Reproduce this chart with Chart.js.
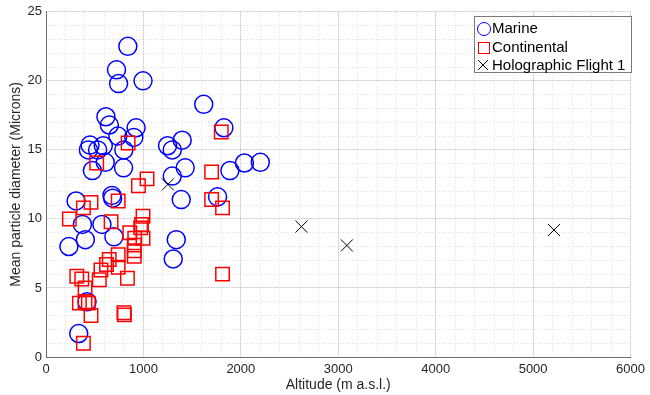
<!DOCTYPE html>
<html>
<head>
<meta charset="utf-8">
<script src="https://cdn.jsdelivr.net/npm/chart.js@4.4.1/dist/chart.umd.min.js"></script>
<style>
  body { margin: 0; background: #fff; }
  #wrap { position: relative; width: 650px; height: 395px; }
  #legend {
    position: absolute; left: 474px; top: 16px; width: 156px; height: 53px;
    border: 1px solid #7a7a7a; background: #fff;
    font-family: Helvetica, 'Liberation Sans', Arial, sans-serif; font-size: 15px; color: #000;
    padding-top: 2px; box-sizing: content-box;
  }
  #legend .row { height: 18.5px; line-height: 18.5px; position: relative; padding-left: 17px; white-space: nowrap; }
  #legend .mk { position: absolute; left: 2px; top: 3px; }
  .circ { width: 12px; height: 12px; border: 1.5px solid #0000ff; border-radius: 50%; }
  .sq { width: 10px; height: 10px; border: 1.5px solid #ff0000; left: 3px !important; top: 4px !important; }
</style>
</head>
<body>
<div id="wrap">
  <canvas id="chart" width="650" height="395"></canvas>
  <div id="legend">
    <div class="row"><span class="mk circ"></span>Marine</div>
    <div class="row"><span class="mk sq"></span>Continental</div>
    <div class="row"><svg class="mk" width="14" height="14" style="left:1px;top:2px"><path d="M2 2 L12 12 M12 2 L2 12" stroke="#000" stroke-width="1"/></svg>Holographic Flight 1</div>
  </div>
</div>
<script>
const marineAlt = [840, 724, 745, 996, 1619, 1826, 615, 650, 925, 738, 901, 452, 435, 588, 530, 799, 1248, 1296, 1398, 608,
    476, 796, 1429, 2037, 2200, 1888, 1296, 309, 677, 684, 1388, 1761, 374, 574, 697, 404, 235, 1337, 1306, 421, 336];
const marineDia = [22.5, 20.8, 19.8, 20.0, 18.3, 16.6, 17.4, 16.8, 16.6, 16.0, 15.9, 15.35, 15.0, 15.3, 15.0, 15.0, 15.3, 15.0, 15.7, 14.1,
    13.5, 13.7, 13.7, 14.05, 14.1, 13.5, 13.1, 11.3, 11.7, 11.5, 11.4, 11.6, 9.6, 9.6, 8.7, 8.5, 8.0, 8.5, 7.1, 4.0, 1.7];

const contAlt = [843, 520, 1799, 1700, 1037, 949, 1700, 1812, 462, 384, 741, 240, 668, 996, 980, 972, 860, 911, 996, 906,
    906, 906, 741, 649, 621, 741, 564, 547, 836, 316, 367, 401, 343, 400, 435, 462, 800, 805, 1812, 384];
const contDia = [15.5, 14.05, 16.3, 13.4, 12.9, 12.4, 11.4, 10.8, 11.2, 10.8, 11.3, 10.0, 9.8, 10.2, 9.6, 9.35, 9.0, 8.6, 8.6, 8.1,
    7.7, 7.3, 7.4, 7.06, 6.7, 6.5, 6.3, 5.6, 5.7, 5.85, 5.65, 5.0, 3.9, 4.0, 3.9, 3.0, 3.2, 3.05, 6.0, 1.0];

const holoAlt = [1251, 2622, 3088, 5214];
const holoDia = [12.5, 9.44, 8.08, 9.2];

const xTicks = [0, 1000, 2000, 3000, 4000, 5000, 6000];
const yTicks = [0, 5, 10, 15, 20, 25];

const toPts = (xs, ys) => xs.map((x, i) => ({ x: x, y: ys[i] }));

const fontFam = "Helvetica, 'Liberation Sans', Arial, sans-serif";
const axisCol = '#6e6e6e';
const textCol = '#262626';

const ctx = document.getElementById('chart').getContext('2d');

new Chart(ctx, {
    type: 'scatter',
    data: {
        datasets: [
            {
                label: 'Marine',
                data: toPts(marineAlt, marineDia),
                pointStyle: 'circle',
                radius: 9,
                borderColor: '#0000ff',
                backgroundColor: 'rgba(0,0,0,0)',
                borderWidth: 1.5,
                order: 2
            },
            {
                label: 'Continental',
                data: toPts(contAlt, contDia),
                pointStyle: 'rect',
                radius: 9.5,
                borderColor: '#ff0000',
                backgroundColor: 'rgba(0,0,0,0)',
                borderWidth: 1.5,
                order: 1
            },
            {
                label: 'Holographic Flight 1',
                data: toPts(holoAlt, holoDia),
                pointStyle: 'crossRot',
                radius: 8.5,
                borderColor: '#000000',
                borderWidth: 1,
                order: 0
            }
        ]
    },
    options: {
        responsive: false,
        animation: false,
        events: [],
        layout: { padding: { top: 2, right: 0, left: 0, bottom: 0 } },
        plugins: { legend: { display: false }, tooltip: { enabled: false } },
        scales: {
            xm: {
                type: 'linear', position: 'bottom', min: 0, max: 6000,
                ticks: { display: false, stepSize: 200 },
                grid: { color: 'rgba(38,38,38,0.15)', drawTicks: false, lineWidth: 1 },
                border: { display: false, dash: [1, 2] }
            },
            ym: {
                type: 'linear', position: 'left', min: 0, max: 25,
                ticks: { display: false, stepSize: 1 },
                grid: { color: 'rgba(38,38,38,0.15)', drawTicks: false, lineWidth: 1 },
                border: { display: false, dash: [1, 2] }
            },
            x: {
                type: 'linear', position: 'bottom', min: 0, max: 6000,
                afterBuildTicks: (s) => { s.ticks = xTicks.map(v => ({ value: v })); },
                afterFit: (s) => { s.height = 38; },
                ticks: { color: textCol, font: { family: fontFam, size: 13 }, padding: 5, maxRotation: 0,
                    callback: (v) => String(v) },
                grid: { color: 'rgba(38,38,38,0.12)', drawTicks: false },
                border: { color: axisCol, width: 1 },
                title: { display: true, text: 'Altitude (m a.s.l.)', color: textCol, font: { family: fontFam, size: 14 }, padding: { top: 0, bottom: 1 } }
            },
            y: {
                type: 'linear', position: 'left', min: 0, max: 25,
                afterBuildTicks: (s) => { s.ticks = yTicks.map(v => ({ value: v })); },
                afterFit: (s) => { s.width = 46; },
                ticks: { color: textCol, font: { family: fontFam, size: 13 }, padding: 4,
                    callback: (v) => String(v) },
                grid: { color: 'rgba(38,38,38,0.12)', drawTicks: false },
                border: { color: axisCol, width: 1 },
                title: { display: true, text: 'Mean particle diameter (Microns)', color: textCol, font: { family: fontFam, size: 14 }, padding: { top: 8, bottom: 0 } }
            }
        }
    }
});
</script>
</body>
</html>
